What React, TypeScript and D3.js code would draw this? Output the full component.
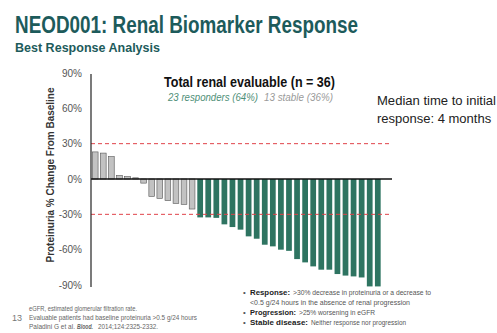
import React from "react";
import * as d3 from "d3";

const W = 497;
const H = 333;

const patients: string[] = Array.from({ length: 36 }, (_, i) => `P${i + 1}`);
const changes: number[] = [
  23, 22, 19, 3, 2, 1, -3.5, -14.7, -16.4, -18.4, -20.7, -21.5, -25.5,
  -32.6, -32.6, -33, -38.5, -40.8, -43, -48.7, -50.7, -55.8, -57.2, -60, -61,
  -68, -70.8, -74.2, -77, -77, -80.7, -82, -82.7, -83.6, -91.2, -91.2,
];
const responder: boolean[] = changes.map((_, i) => i >= 13);
const yTicks: number[] = [90, 60, 30, 0, -30, -60, -90];
const thresholds: number[] = [30, -30];

const FONT = "'Liberation Sans', Arial, sans-serif";

export default function App() {
  const x = d3.scaleBand<string>().domain(patients).range([90, 383]).padding(0.29);
  const y = d3.scaleLinear().domain([-90, 90]).range([285, 73]);
  const axisX = 91;
  const sq = { lengthAdjust: "spacingAndGlyphs" as const };

  return (
    <svg
      width={W}
      height={H}
      style={{ position: "absolute", left: 0, top: 0, background: "#fff" }}
      fontFamily={FONT}
    >
      <text x={15} y={33} fontSize={23} fontWeight="bold" fill="#1d5b5b" textLength={343} {...sq}>
        NEOD001: Renal Biomarker Response
      </text>
      <text x={15} y={52} fontSize={13} fontWeight="bold" fill="#1d5b5b" textLength={145} {...sq}>
        Best Response Analysis
      </text>

      <text x={164} y={87} fontSize={15} fontWeight="bold" fill="#111" textLength={171} {...sq}>
        Total renal evaluable (n = 36)
      </text>
      <text x={168} y={101} fontSize={11} fontStyle="italic" fill="#4f8f78" textLength={90} {...sq}>
        23 responders (64%)
      </text>
      <text x={264} y={101} fontSize={11} fontStyle="italic" fill="#9a9a9a" textLength={69} {...sq}>
        13 stable (36%)
      </text>

      <text x={377} y={105} fontSize={13} fill="#222" textLength={119} {...sq}>
        Median time to initial
      </text>
      <text x={377} y={123} fontSize={13} fill="#222">
        response: 4 months
      </text>

      {/* y axis title */}
      <text
        transform={`translate(54,175) rotate(-90)`}
        textAnchor="middle"
        fontSize={10.5}
        fontWeight="bold"
        fill="#333"
        textLength={175}
        {...sq}
      >
        Proteinuria % Change From Baseline
      </text>

      {yTicks.map((t) => (
        <text key={t} x={82} y={y(t)} dy="0.35em" textAnchor="end" fontSize={10} fill="#555">
          {`${t}%`}
        </text>
      ))}

      {/* bars */}
      {changes.map((v, i) => {
        const top = y(Math.max(0, v));
        const h = Math.abs(y(v) - y(0));
        return (
          <rect
            key={i}
            x={x(patients[i])}
            y={top}
            width={x.bandwidth()}
            height={h}
            fill={responder[i] ? "#2e7461" : "#c2c2c2"}
            stroke={responder[i] ? "none" : "#555"}
            strokeWidth={0.6}
          />
        );
      })}

      {thresholds.map((t) => (
        <line
          key={t}
          x1={axisX}
          x2={390}
          y1={y(t)}
          y2={y(t)}
          stroke="#e0434a"
          strokeWidth={1}
          strokeDasharray="4,3"
        />
      ))}

      <line x1={axisX} x2={392} y1={y(0)} y2={y(0)} stroke="#111" strokeWidth={1.6} />
      <line x1={axisX} x2={axisX} y1={74} y2={287} stroke="#222" strokeWidth={1.2} />

      {/* definitions */}
      <g fontSize={7.8} fill="#555">
        <text x={243} y={295}>•</text>
        <text x={250} y={295} fontWeight="bold" fill="#222" textLength={40} {...sq}>Response:</text>
        <text x={293} y={295} textLength={138} {...sq}>&gt;30% decrease in proteinuria or a decrease to</text>
        <text x={250} y={305} textLength={160} {...sq}>&lt;0.5 g/24 hours in the absence of renal progression</text>
        <text x={243} y={315}>•</text>
        <text x={250} y={315} fontWeight="bold" fill="#222" textLength={46} {...sq}>Progression:</text>
        <text x={299} y={315} textLength={76} {...sq}>&gt;25% worsening in eGFR</text>
        <text x={243} y={325}>•</text>
        <text x={250} y={325} fontWeight="bold" fill="#222" textLength={58} {...sq}>Stable disease:</text>
        <text x={311} y={325} textLength={95} {...sq}>Neither response nor progression</text>
      </g>

      {/* footnotes */}
      <text x={12} y={321} fontSize={9} fill="#777">13</text>
      <g fontSize={6.8} fill="#666">
        <text x={29} y={311} textLength={108} {...sq}>eGFR, estimated glomerular filtration rate.</text>
        <text x={29} y={320} textLength={168} {...sq}>Evaluable patients had baseline proteinuria &gt;0.5 g/24 hours</text>
        <text x={29} y={329} textLength={46} {...sq}>Paladini G et al.</text>
        <text x={77} y={329} fontWeight="bold" fontStyle="italic" textLength={16} {...sq}>Blood.</text>
        <text x={98} y={329} textLength={60} {...sq}>2014;124:2325-2332.</text>
      </g>
    </svg>
  );
}
